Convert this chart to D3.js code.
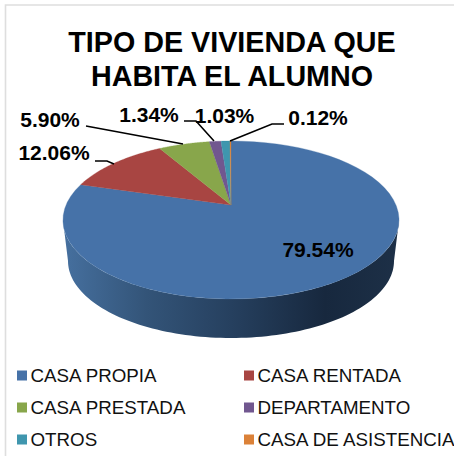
<!DOCTYPE html>
<html><head><meta charset="utf-8">
<script src="https://cdn.jsdelivr.net/npm/d3@7"></script>
<style>html,body{margin:0;padding:0;background:#fff}svg{display:block}</style>
</head><body><div id="c"></div>
<script>
const categories=["CASA PROPIA","CASA RENTADA","CASA PRESTADA","DEPARTAMENTO","OTROS","CASA DE ASISTENCIA"];
const values=[79.54,12.06,5.90,1.34,1.03,0.12];
const valueLabels=["79.54%","12.06%","5.90%","1.34%","1.03%","0.12%"];
const colors=["#4672a8","#a84542","#88a64b","#71578f","#3f96ae","#db8138"];
const titleLines=["TIPO DE VIVIENDA QUE","HABITA EL ALUMNO"];
const W=454,H=456,F='"Liberation Sans",Arial,sans-serif';
const svg=d3.select("#c").append("svg").attr("width",W).attr("height",H);
const defs=svg.append("defs");
const grad=defs.append("linearGradient").attr("id","side").attr("gradientUnits","userSpaceOnUse").attr("x1",63).attr("x2",399).attr("y1",0).attr("y2",0);
[[0,"#46709f"],[0.25,"#335478"],[0.5,"#26405f"],[0.78,"#17283e"],[1,"#1d3047"]].forEach(s=>grad.append("stop").attr("offset",s[0]).attr("stop-color",s[1]));

svg.append("path").attr("d","M5.5,456V5H454").attr("fill","none").attr("stroke","#dedede").attr("stroke-width",1.6);

// projection of the pie disc (perspective tilt)
const cx=231,R=165,c=0.19,a=-37.2,b=205;
const proj=t=>{const u=Math.sin(t),v=Math.cos(t),d=1+c*v;return [cx+R*u/d,(a*v+b)/d];};
const line=d3.line();
const samples=(t0,t1)=>d3.range(0,61).map(i=>proj(t0+(t1-t0)*i/60));

// side wall
const bot=t=>[cx+163*Math.sin(t),261-77*Math.cos(t)];
const wall=[];
d3.range(0,101).forEach(i=>{const t=Math.PI/2+Math.PI*i/100;wall.push(bot(t));});
d3.range(0,101).forEach(i=>{const t=Math.PI*1.5-0.19-(Math.PI-0.38)*i/100;wall.push(proj(t));});
svg.append("path").attr("d",line(wall)+"Z").attr("fill","url(#side)");

// top face
const arcs=d3.pie().sort(null).value(d=>d)(values);
svg.selectAll("path.slice").data(arcs).join("path").attr("class","slice")
 .attr("d",d=>line([[cx,b],...samples(d.startAngle,d.endAngle)])+"Z")
 .attr("fill",(d,i)=>colors[i]).attr("stroke",(d,i)=>colors[i]).attr("stroke-width",0.3);

// title
svg.append("text").attr("text-anchor","middle").attr("font-family",F).attr("font-weight","bold").attr("font-size",28.7).attr("fill","#000")
 .selectAll("tspan").data(titleLines).join("tspan").attr("x",232).attr("y",(d,i)=>52+i*33.5).text(d=>d);

// leader lines
const leaders=[null,[[95,161],[107,161],[114,164]],[[86,126],[183,144]],[[184,121],[196,121],[214,141]],null,[[230,141],[272,124],[284,124]]];
svg.selectAll("path.lead").data(leaders.filter(d=>d)).join("path").attr("class","lead").attr("d",d=>line(d)).attr("fill","none").attr("stroke","#000").attr("stroke-width",1.6);

// labels
const labelPos=[[318,257],[54,160],[50,127],[149,122],[224.5,123],[318,125]];
svg.selectAll("text.lab").data(valueLabels).join("text").attr("class","lab").attr("x",(d,i)=>labelPos[i][0]).attr("y",(d,i)=>labelPos[i][1]).attr("text-anchor","middle").attr("font-family",F).attr("font-weight","bold").attr("font-size",21).attr("fill","#000").text(d=>d);

// legend
const lx=d3.scalePoint().domain([0,1]).range([17,244]);
const ly=d3.scalePoint().domain([0,1,2]).range([375,439]);
const lg=svg.selectAll("g.lg").data(categories).join("g").attr("class","lg").attr("transform",(d,i)=>`translate(${lx(i%2)},${ly(Math.floor(i/2))})`);
lg.append("rect").attr("x",0).attr("y",-4.5).attr("width",10).attr("height",10).attr("fill",(d,i)=>colors[i]);
lg.append("text").attr("x",13.5).attr("y",7).attr("font-family",F).attr("font-size",18.75).attr("fill","#111").text(d=>d);
</script></body></html>
